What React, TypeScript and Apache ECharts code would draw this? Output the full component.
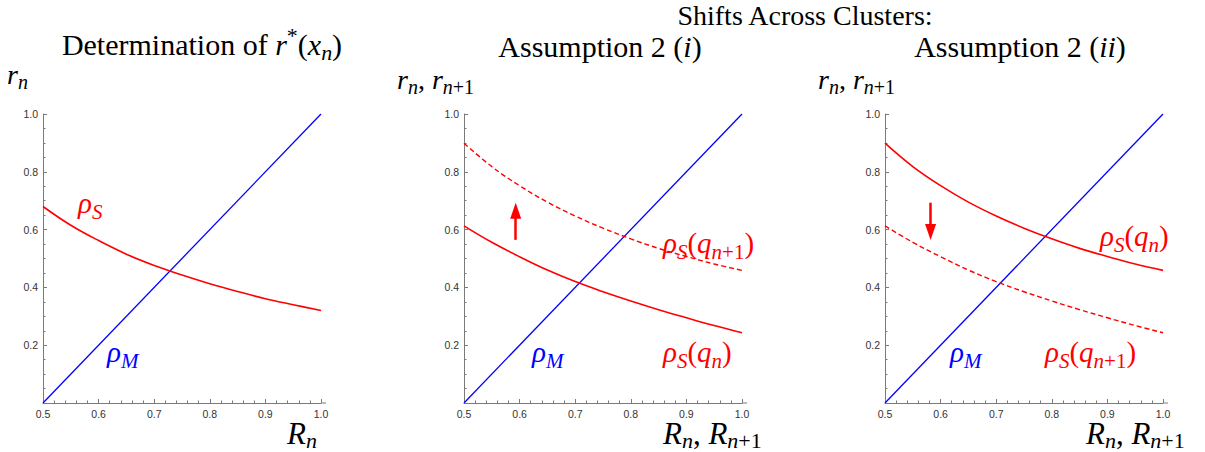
import React, { useEffect, useRef } from 'react';
import * as echarts from 'echarts';

// ---- data ----
const xs = [0.5, 0.55, 0.6, 0.65, 0.7, 0.75, 0.8, 0.85, 0.9, 0.95, 1.0];
// panel 1: rho_S
const rhoS1 = [0.68, 0.615, 0.562, 0.515, 0.476, 0.443, 0.413, 0.386, 0.361, 0.34, 0.32];
// panels 2 & 3: lower and upper rho_S curves
const rhoSLow = [0.613, 0.556, 0.506, 0.46, 0.42, 0.385, 0.353, 0.323, 0.295, 0.268, 0.243];
const rhoSHigh = [0.899, 0.818, 0.752, 0.695, 0.647, 0.605, 0.568, 0.535, 0.507, 0.481, 0.459];
// rho_M straight line
const rhoMx = [0.5, 1.0];
const rhoMy = [0.0, 1.0];
// arrows [x, yStart, yEnd]
const arrowUp = [0.593, 0.5645, 0.665];
const arrowDown = [0.582, 0.693, 0.592];
// axis ranges / ticks
const xRange = [0.5, 1.0];
const yRange = [0, 1.0];
const xStep = 0.1;
const yStep = 0.2;

const SERIF = 'Liberation Serif';
const SANS = 'Liberation Sans, Arial, sans-serif';
const RED = '#ff0000';
const BLUE = '#0000ff';
const AXIS = '#7a7a7a';

const pairs = (a: number[], b: number[]) => a.map((x, i) => [x, b[i]]);

function rich(size: number, color: string, lhf: number) {
  const s = Math.round(size * 0.72);
  const lh = Math.round(size * lhf);
  const base = { fontFamily: SERIF, fill: color };
  return {
    it: { ...base, fontStyle: 'italic', fontSize: size, lineHeight: lh, verticalAlign: 'middle' },
    up: { ...base, fontStyle: 'normal', fontSize: size, lineHeight: lh, verticalAlign: 'middle' },
    sb: { ...base, fontStyle: 'italic', fontSize: s, lineHeight: s, verticalAlign: 'bottom' },
    sbu: { ...base, fontStyle: 'normal', fontSize: s, lineHeight: s, verticalAlign: 'bottom' },
    sp: { ...base, fontStyle: 'normal', fontSize: s, lineHeight: s, verticalAlign: 'top' },
  };
}

function txt(text: string, x: number, y: number, size: number, color: string, align = 'left', lhf = 1.3) {
  return {
    type: 'text',
    x,
    y,
    silent: true,
    style: { text, rich: rich(size, color, lhf), align, verticalAlign: 'middle', fill: color, fontFamily: SERIF, fontSize: size },
  };
}

const grids = [
  { left: 43, top: 114, width: 278, height: 289 },
  { left: 464, top: 114, width: 278, height: 289 },
  { left: 885, top: 114, width: 278, height: 289 },
];

function xAxis(gi: number) {
  return {
    type: 'value',
    gridIndex: gi,
    min: xRange[0],
    max: xRange[1],
    interval: xStep,
    axisLine: { show: true, onZero: false, lineStyle: { color: AXIS, width: 1 } },
    axisTick: { show: true, inside: true, length: 4, lineStyle: { color: AXIS } },
    minorTick: { show: true, splitNumber: 5, length: 2.5, lineStyle: { color: AXIS } },
    splitLine: { show: false },
    minorSplitLine: { show: false },
    axisLabel: { fontFamily: SANS, fontSize: 10.5, color: '#333', margin: 5, formatter: (v: number) => v.toFixed(1) },
  };
}
function yAxis(gi: number) {
  return {
    type: 'value',
    gridIndex: gi,
    min: yRange[0],
    max: yRange[1],
    interval: yStep,
    axisLine: { show: true, onZero: false, lineStyle: { color: AXIS, width: 1 } },
    axisTick: { show: true, inside: true, length: 4, lineStyle: { color: AXIS } },
    minorTick: { show: true, splitNumber: 4, length: 2.5, lineStyle: { color: AXIS } },
    splitLine: { show: false },
    minorSplitLine: { show: false },
    axisLabel: { fontFamily: SANS, fontSize: 10.5, color: '#333', margin: 5, formatter: (v: number) => (v === 0 ? '' : v.toFixed(1)) },
  };
}

function line(gi: number, data: number[][], color: string, width: number, dashed = false, extra: any = {}) {
  return {
    type: 'line',
    xAxisIndex: gi,
    yAxisIndex: gi,
    data,
    smooth: data.length > 2 ? 0.4 : false,
    showSymbol: false,
    symbol: 'none',
    silent: true,
    lineStyle: { color, width, type: dashed ? [5, 3] : 'solid' },
    ...extra,
  };
}

function arrow(a: number[]) {
  return {
    markLine: {
      silent: true,
      symbol: ['none', 'triangle'],
      symbolSize: [11, 16],
      label: { show: false },
      lineStyle: { color: RED, width: 2.5, type: 'solid' },
      itemStyle: { color: RED },
      data: [[{ coord: [a[0], a[1]] }, { coord: [a[0], a[2]] }]],
    },
  };
}

export default function App() {
  const ref = useRef<HTMLDivElement>(null);
  useEffect(() => {
    const chart = echarts.init(ref.current!, null, { renderer: 'svg' });
    const mline = pairs(rhoMx, rhoMy);
    chart.setOption({
      animation: false,
      backgroundColor: '#ffffff',
      grid: grids,
      xAxis: [xAxis(0), xAxis(1), xAxis(2)],
      yAxis: [yAxis(0), yAxis(1), yAxis(2)],
      series: [
        line(0, mline, BLUE, 1.3),
        line(0, pairs(xs, rhoS1), RED, 1.6),
        line(1, mline, BLUE, 1.3),
        line(1, pairs(xs, rhoSLow), RED, 1.6),
        line(1, pairs(xs, rhoSHigh), RED, 1.4, true, arrow(arrowUp)),
        line(2, mline, BLUE, 1.3),
        line(2, pairs(xs, rhoSHigh), RED, 1.6, false, arrow(arrowDown)),
        line(2, pairs(xs, rhoSLow), RED, 1.4, true),
      ],
      graphic: [
        // axis extensions
        { type: 'line', silent: true, shape: { x1: 321, y1: 403, x2: 326, y2: 403 }, style: { stroke: AXIS, lineWidth: 1 } },
        { type: 'line', silent: true, shape: { x1: 742, y1: 403, x2: 747, y2: 403 }, style: { stroke: AXIS, lineWidth: 1 } },
        { type: 'line', silent: true, shape: { x1: 1163, y1: 403, x2: 1168, y2: 403 }, style: { stroke: AXIS, lineWidth: 1 } },
        // titles
        txt('{up|Determination of }{it|r}{sp|*}{up|(}{it|x}{sb|n}{up|)}', 202, 44, 30, '#000', 'center'),
        txt('{up|Shifts Across Clusters:}', 805, 15, 28, '#000', 'center'),
        txt('{up|Assumption 2 (}{it|i}{up|)}', 600, 46, 30, '#000', 'center'),
        txt('{up|Assumption 2 (}{it|ii}{up|)}', 1020, 46, 30, '#000', 'center'),
        // axis names
        txt('{it|r}{sb|n}', 7, 74, 28, '#000'),
        txt('{it|r}{sb|n}{up|, }{it|r}{sb|n}{sbu|+1}', 397, 79, 28, '#000'),
        txt('{it|r}{sb|n}{up|, }{it|r}{sb|n}{sbu|+1}', 818, 79, 28, '#000'),
        txt('{it|R}{sb|n}', 287, 433, 31, '#000', 'left', 1.15),
        txt('{it|R}{sb|n}{up|, }{it|R}{sb|n}{sbu|+1}', 663, 433, 31, '#000', 'left', 1.15),
        txt('{it|R}{sb|n}{up|, }{it|R}{sb|n}{sbu|+1}', 1086, 433, 31, '#000', 'left', 1.15),
        // curve labels
        txt('{it|ρ}{sb|S}', 78, 203, 29, RED),
        txt('{it|ρ}{sb|M}', 107, 352, 29, BLUE),
        txt('{it|ρ}{sb|S}{up|(}{it|q}{sb|n}{sbu|+1}{up|)}', 663, 243, 29, RED),
        txt('{it|ρ}{sb|S}{up|(}{it|q}{sb|n}{up|)}', 663, 352, 29, RED),
        txt('{it|ρ}{sb|M}', 532, 352, 29, BLUE),
        txt('{it|ρ}{sb|S}{up|(}{it|q}{sb|n}{up|)}', 1100, 236, 29, RED),
        txt('{it|ρ}{sb|S}{up|(}{it|q}{sb|n}{sbu|+1}{up|)}', 1045, 352, 29, RED),
        txt('{it|ρ}{sb|M}', 950, 352, 29, BLUE),
      ],
    });
    return () => chart.dispose();
  }, []);
  return <div ref={ref} style={{ position: 'absolute', left: 0, top: 0, width: 1205, height: 452 }} />;
}
